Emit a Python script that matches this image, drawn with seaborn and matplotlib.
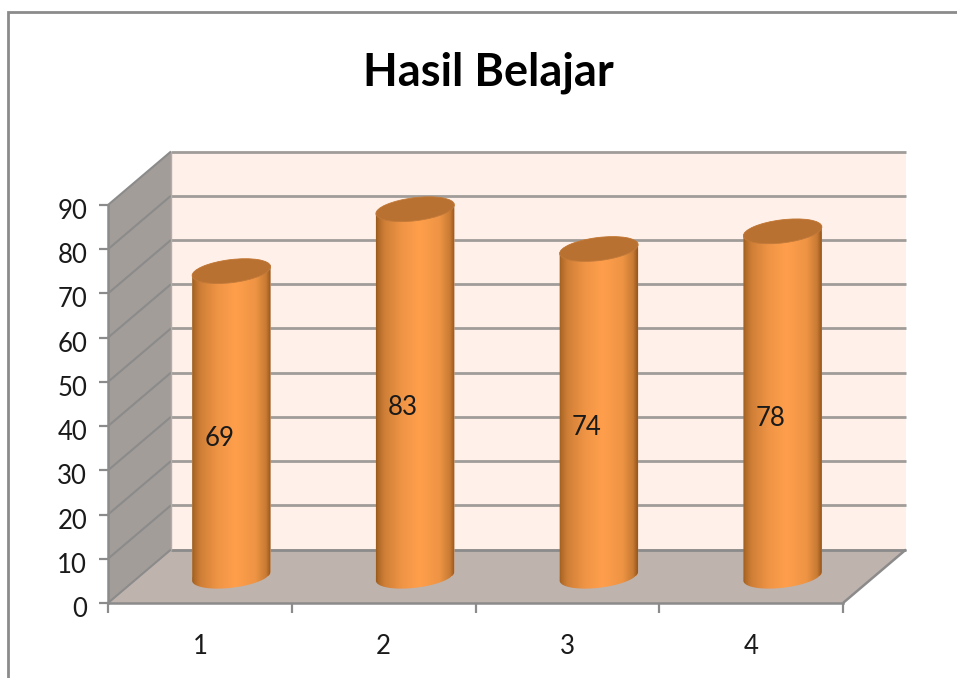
import numpy as np
import pandas as pd
import matplotlib
matplotlib.use("Agg")
import matplotlib.pyplot as plt
import seaborn as sns
from matplotlib.colors import LinearSegmentedColormap
from matplotlib.lines import Line2D
from matplotlib.patches import Ellipse, Polygon
from matplotlib.path import Path
from matplotlib.transforms import Affine2D, IdentityTransform

categories = ["1", "2", "3", "4"]
values = [69, 83, 74, 78]
value_ticks = [0, 10, 20, 30, 40, 50, 60, 70, 80, 90]
title_text = "Hasil Belajar"

W, H, DPI = 957, 678, 100
GRAY = "#8b8b8b"
GRID = "#a09c99"
WALL = "#fff0e9"
SIDE = "#a39d99"
FLOOR = "#bfb3ae"
TOP = "#b97131"
DEPTH = np.array([63.0, 53.5])      # full depth of the 3D box, pixels
MID = DEPTH / 2                     # bars stand half way back
A, B, TILT = 39.5, 11.5, 7.0        # cylinder cap, pixels / degrees

sns.set_theme(style="white")
plt.rcParams["font.family"] = ["Lato", "DejaVu Sans"]
plt.rcParams["text.color"] = "#1a1a1a"

fig = plt.figure(figsize=(W / DPI, H / DPI), dpi=DPI, facecolor="white")
ax = fig.add_axes([108 / W, (H - 603) / H, 735 / W, 398 / H])
ax.patch.set_visible(False)

df = pd.DataFrame({"k": categories, "v": values})
sns.barplot(data=df, x="k", y="v", color="#f0903f", width=0.425, ax=ax,
            saturation=1, errorbar=None, zorder=3)
ax.set_xlim(-0.5, len(categories) - 0.5)
ax.set_ylim(0, value_ticks[-1])
ax.set_xlabel("")
ax.set_ylabel("")

x0, x1 = ax.get_xlim()
y0, y1 = ax.get_ylim()
ident = IdentityTransform()


def disp(x, y, d=(0.0, 0.0)):
    return ax.transData.transform((x, y)) + np.asarray(d)


def poly(points, color, z):
    ax.add_patch(Polygon(points, closed=True, facecolor=color, edgecolor="none",
                         transform=ident, clip_on=False, zorder=z))


def line(a, b, color, lw, z):
    ax.add_line(Line2D([a[0], b[0]], [a[1], b[1]], color=color, lw=lw,
                       transform=ident, clip_on=False, zorder=z,
                       solid_capstyle="butt"))


# box: back wall, side wall, floor
poly([disp(x0, y0, DEPTH), disp(x1, y0, DEPTH), disp(x1, y1, DEPTH), disp(x0, y1, DEPTH)], WALL, 0.5)
poly([disp(x0, y0), disp(x0, y0, DEPTH), disp(x0, y1, DEPTH), disp(x0, y1)], SIDE, 0.6)
poly([disp(x0, y0), disp(x1, y0), disp(x1, y0, DEPTH), disp(x0, y0, DEPTH)], FLOOR, 0.6)

for t in value_ticks:
    line(disp(x0, t, DEPTH), disp(x1, t, DEPTH), GRID if t else GRAY, 2.0, 0.8)
    line(disp(x0, t), disp(x0, t, DEPTH), GRAY, 1.5, 0.9)
line(disp(x1, y0), disp(x1, y0, DEPTH), GRAY, 1.8, 0.9)
line(disp(x0, y0, DEPTH), disp(x0, y1, DEPTH), "#b5aca7", 1.0, 0.9)

# cylinders
cmap = LinearSegmentedColormap.from_list(
    "cyl",
    [(0.0, "#8f5218"), (0.04, "#b06a28"), (0.12, "#d07f37"), (0.33, "#ef9445"),
     (0.55, "#ff9f4c"), (0.8, "#ee9444"), (0.93, "#c87a33"), (0.98, "#9c5a1e"), (1.0, "#8a4e18")])
grad = np.linspace(0, 1, 256).reshape(1, -1)
th = np.deg2rad(TILT)
rot = np.array([[np.cos(th), -np.sin(th)], [np.sin(th), np.cos(th)]])


def arc(center, t0, t1):
    t = np.deg2rad(np.linspace(t0, t1, 60))
    return center + (rot @ np.vstack([A * np.cos(t), B * np.sin(t)])).T


for bar, v in zip(ax.patches, values):
    cx = bar.get_x() + bar.get_width() / 2
    low = disp(cx, 0, MID)
    high = disp(cx, v, MID)
    outline = np.vstack([arc(low, 180, 360), arc(high, 0, 180), arc(low, 180, 180)])
    body = Path(outline, closed=False)
    bar.set_transform(ax.transData + Affine2D().translate(*MID))
    bar.set_clip_path(body, ident)
    im = ax.imshow(grad, cmap=cmap, aspect="auto", zorder=3.2,
                   extent=(low[0] - A - 1, low[0] + A + 1, low[1] - 2 * B, high[1] + 2 * B),
                   transform=ident, interpolation="bilinear")
    im.set_clip_path(body, ident)
    ax.add_patch(Ellipse(high, 2 * A, 2 * B, angle=TILT, facecolor=TOP, edgecolor="#c27a3a",
                         lw=0.6, transform=ident, clip_on=False, zorder=3.4))
    # value label sits a little left of the bar's middle
    ax.text(cx, v / 2, str(v), ha="center", va="center", fontsize=18.5, color="#1a1a1a", zorder=4,
            transform=ax.transData + Affine2D().translate(MID[0] - 12, 12),
            clip_on=False)

ax.set_xlim(x0, x1)
ax.set_ylim(y0, y1)

# axes
for s in ("top", "right"):
    ax.spines[s].set_visible(False)
for s in ("left", "bottom"):
    ax.spines[s].set_color(GRAY)
    ax.spines[s].set_linewidth(1.8)
    ax.spines[s].set_zorder(2)
ax.set_yticks(value_ticks)
ax.set_yticklabels([str(t) for t in value_ticks])
ax.set_xticks(np.arange(x0, x1 + 0.5))
ax.set_xticklabels([])
ax.set_xticks(np.arange(len(categories)), minor=True)
ax.set_xticklabels(categories, minor=True)
ax.tick_params(axis="y", which="major", left=True, length=6.5, width=1.6, color=GRAY, pad=8.5,
               labelsize=18.5, labelcolor="#1a1a1a")
ax.tick_params(axis="x", which="major", bottom=True, length=7.5, width=1.6, color=GRAY)
ax.tick_params(axis="x", which="minor", bottom=False, length=0, pad=22.5, labelsize=18.5,
               labelcolor="#1a1a1a")
for lab in ax.get_yticklabels():
    lab.set_transform(lab.get_transform() + Affine2D().translate(0, -4))

# chart frame and title
fig.add_artist(Line2D([8 / W, 8 / W, 1], [0, (H - 11.5) / H, (H - 11.5) / H], color=GRAY, lw=2.0,
                      transform=fig.transFigure, solid_joinstyle="miter"))
fig.text(488 / W, (H - 73) / H, title_text, ha="center", va="center", fontsize=32.5, fontweight="bold",
         color="black", family=["Lato", "DejaVu Sans"])

fig.savefig("out.png", dpi=DPI, facecolor="white")
